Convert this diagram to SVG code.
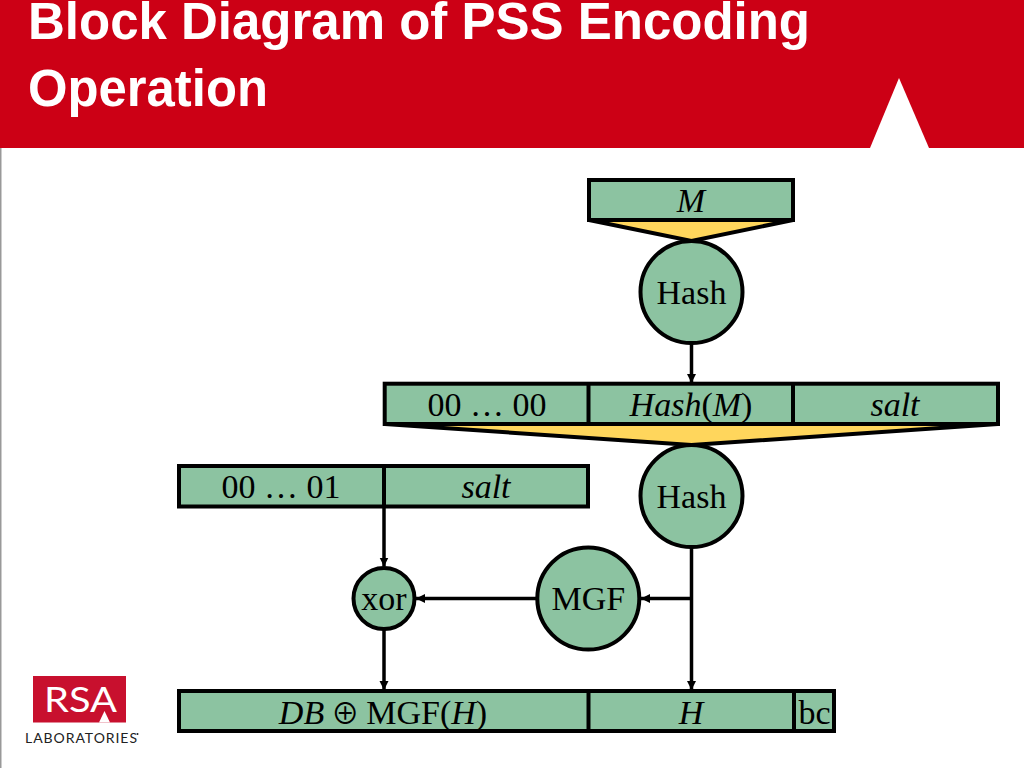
<svg xmlns="http://www.w3.org/2000/svg" width="1024" height="768" viewBox="0 0 1024 768">
<style>
.box{fill:#8cc3a1;stroke:#000;stroke-width:4}
.fun{fill:#ffd65c;stroke:#000;stroke-width:4;stroke-linejoin:miter}
.div{stroke:#000;stroke-width:4;fill:none}
.lnk{stroke:#000;stroke-width:3.5;fill:none}
.t{font-family:"Liberation Serif","Times New Roman",serif;font-size:34px;fill:#000;text-anchor:middle}
.i{font-style:italic}
.title{font-family:"Liberation Sans",Arial,sans-serif;font-size:51px;font-weight:bold;fill:#fff}
</style>
<defs>
<marker id="arr" markerUnits="userSpaceOnUse" markerWidth="12" markerHeight="12" refX="9" refY="5" orient="auto"><path d="M0,0.500L9,5L0,9.500Z" fill="#000"/></marker>
</defs>
<rect width="1024" height="768" fill="#fff"/>
<rect x="0" y="148" width="1.5" height="620" fill="#999"/>
<g id="header">
<rect x="0" y="0" width="1024" height="148" fill="#cc0015"/>
<polygon points="870,148 899,78 929,148" fill="#fff"/>
<text class="title" x="28" y="38.500" textLength="782" lengthAdjust="spacingAndGlyphs">Block Diagram of PSS Encoding</text>
<text class="title" x="28" y="106" textLength="240" lengthAdjust="spacingAndGlyphs">Operation</text>
</g>
<g id="logo">
<rect x="33" y="676" width="93" height="46.500" fill="#c8102e"/>
<polygon points="99,722.500 104.500,711 110,722.500" fill="#fff"/>
<text x="80.500" y="712" font-family="Lato,'Liberation Sans',sans-serif" font-size="35" fill="#fff" text-anchor="middle" textLength="73" lengthAdjust="spacingAndGlyphs">RSA</text>
<text x="25" y="742.500" font-family="Lato,'Liberation Sans',sans-serif" font-size="14" fill="#222" textLength="112" lengthAdjust="spacing">LABORATORIES</text>
<circle cx="137.500" cy="734" r="1" fill="#222"/>
</g>
<g id="funnel-top"><polygon class="fun" points="589,220 793,220 691.500,241"/></g>
<g id="funnel-mid"><polygon class="fun" points="384.700,424 998,424 691.500,445"/></g>
<g id="connectors">
<line class="lnk" x1="691.500" y1="342" x2="691.500" y2="383" marker-end="url(#arr)"/>
<line class="lnk" x1="691.500" y1="546" x2="691.500" y2="690" marker-end="url(#arr)"/>
<line class="lnk" x1="691.500" y1="598.500" x2="641" y2="598.500" marker-end="url(#arr)"/>
<line class="lnk" x1="537" y1="598.500" x2="416" y2="598.500" marker-end="url(#arr)"/>
<line class="lnk" x1="384" y1="506" x2="384" y2="566.500" marker-end="url(#arr)"/>
<line class="lnk" x1="384" y1="629" x2="384" y2="690" marker-end="url(#arr)"/>
</g>
<g id="node-m">
<rect class="box" x="589" y="180" width="204" height="40"/>
<text class="t i" x="691" y="212">M</text>
</g>
<g id="node-hash1">
<circle class="box" cx="691.500" cy="292" r="51"/>
<text class="t" x="691.500" y="304">Hash</text>
</g>
<g id="node-row2">
<rect class="box" x="384.700" y="383.700" width="613.300" height="40.300"/>
<line class="div" x1="588.500" y1="383.700" x2="588.500" y2="424"/>
<line class="div" x1="793" y1="383.700" x2="793" y2="424"/>
<text class="t" x="487" y="416">00 … 00</text>
<text class="t" x="691" y="416"><tspan class="i">Hash</tspan>(<tspan class="i">M</tspan>)</text>
<text class="t i" x="895" y="416">salt</text>
</g>
<g id="node-hash2">
<circle class="box" cx="691.500" cy="496" r="51"/>
<text class="t" x="691.500" y="508">Hash</text>
</g>
<g id="node-row3">
<rect class="box" x="179" y="466" width="409" height="40.500"/>
<line class="div" x1="384" y1="466" x2="384" y2="506.500"/>
<text class="t" x="281" y="498">00 … 01</text>
<text class="t i" x="486" y="498">salt</text>
</g>
<g id="node-xor">
<circle class="box" cx="384" cy="598.500" r="30.500"/>
<text class="t" x="384" y="610">xor</text>
</g>
<g id="node-mgf">
<circle class="box" cx="588.300" cy="598.500" r="51"/>
<text class="t" x="588.300" y="610">MGF</text>
</g>
<g id="node-row4">
<rect class="box" x="179" y="691" width="655" height="40"/>
<line class="div" x1="588.500" y1="691" x2="588.500" y2="731"/>
<line class="div" x1="794" y1="691" x2="794" y2="731"/>
<text class="t" x="383" y="723.500"><tspan class="i">DB</tspan> <tspan dx="-1.500" font-family="'Noto Sans CJK JP','Liberation Serif',serif" font-size="28">⊕</tspan><tspan dx="-1.500"> MGF(</tspan><tspan class="i">H</tspan>)</text>
<text class="t i" x="691" y="723.500">H</text>
<text class="t" x="814.500" y="723.500">bc</text>
</g>
</svg>
